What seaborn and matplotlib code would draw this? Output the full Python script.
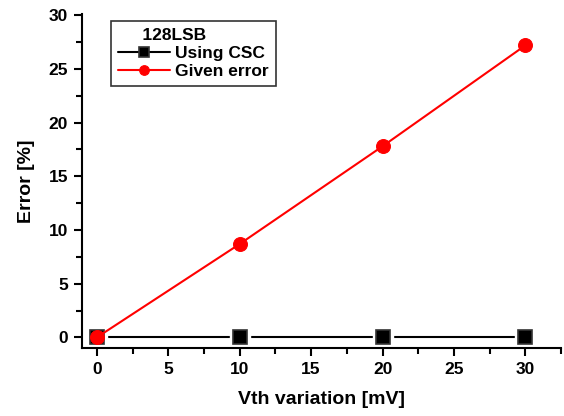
import pandas as pd
import seaborn as sns
import matplotlib.pyplot as plt
from matplotlib.ticker import MultipleLocator

vth = [0, 10, 20, 30]
csc_err = [0, 0, 0, 0]
given_err = [0, 8.7, 17.8, 27.2]

sns.set_style('ticks')
plt.rcParams['font.family'] = ['Liberation Sans', 'DejaVu Sans']
plt.rcParams['font.weight'] = 'bold'
for k in ['text.color', 'axes.labelcolor', 'xtick.color', 'ytick.color', 'axes.edgecolor']:
    plt.rcParams[k] = 'black'

df_csc = pd.DataFrame({'Vth': vth, 'Error': csc_err})
df_given = pd.DataFrame({'Vth': vth, 'Error': given_err})

fig = plt.figure(figsize=(5.64, 4.16), dpi=100)
ax = fig.add_axes([0.145, 0.163, 0.85, 0.803])

# white halo under the squares so the black line looks broken at the markers
ax.plot(vth, csc_err, ls='none', marker='s', ms=15, mfc='white', mec='white', zorder=2)
sns.lineplot(data=df_csc, x='Vth', y='Error', ax=ax, color='black', lw=1.5,
             marker='s', markersize=10, markeredgecolor='#333333', markeredgewidth=1.2,
             label='Using CSC', zorder=1)
ax.lines[-1].set_zorder(1)
ax.plot(vth, csc_err, ls='none', marker='s', ms=10, mfc='black', mec='#333333', mew=1.2, zorder=3)
sns.lineplot(data=df_given, x='Vth', y='Error', ax=ax, color='red', lw=1.5,
             marker='o', markersize=10, markeredgecolor='red',
             label='Given error', zorder=4)

ax.set_xlim(-1.05, 32.5)
ax.set_ylim(-1.0, 30.1)
ax.xaxis.set_major_locator(MultipleLocator(5))
ax.xaxis.set_minor_locator(MultipleLocator(2.5))
ax.yaxis.set_major_locator(MultipleLocator(5))
ax.yaxis.set_minor_locator(MultipleLocator(2.5))
ax.tick_params(which='major', direction='out', length=6, width=1.5, labelsize=12.5, pad=4)
ax.tick_params(which='minor', direction='out', length=4, width=1.5)
for lbl in ax.get_xticklabels() + ax.get_yticklabels():
    lbl.set_fontweight('bold')
for s in ['left', 'bottom']:
    ax.spines[s].set_linewidth(1.5)
sns.despine(ax=ax)

ax.set_xlabel('Vth variation [mV]', fontsize=14, fontweight='bold', labelpad=10)
ax.set_ylabel('Error [%]', fontsize=14, fontweight='bold', labelpad=10)

leg = ax.legend(title='     128LSB', loc='upper left', bbox_to_anchor=(0.043, 1.004),
                fontsize=12.5, title_fontsize=12.5, frameon=True, fancybox=False,
                edgecolor='black', handlelength=3.0, borderpad=0.4, labelspacing=0.15,
                handletextpad=0.3, markerscale=0.7)
leg._legend_box.align = 'left'
leg.get_title().set_fontweight('bold')
leg.get_frame().set_linewidth(1.2)
for t in leg.get_texts():
    t.set_fontweight('bold')

fig.savefig('out.png', dpi=100)
